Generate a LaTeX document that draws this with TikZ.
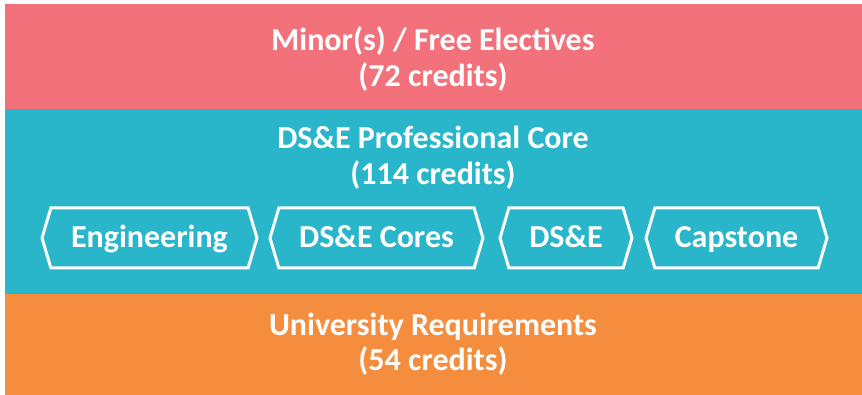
\documentclass[tikz,border=0pt]{standalone}
\usepackage{fontspec}
\setmainfont{Carlito}
\usetikzlibrary{shapes.symbols}
\definecolor{minorpink}{RGB}{242,113,122}
\definecolor{coreteal}{RGB}{41,182,203}
\definecolor{univorange}{RGB}{245,141,62}
\tikzset{every node/.style={text=white, font=\bfseries\fontsize{32}{35.5}\selectfont, align=center}}
\tikzset{hexbox/.style={draw=white, line width=3pt, signal, signal to=west and east, signal pointer angle=147, minimum height=60pt, inner sep=0pt, text height=26pt, text depth=6pt}}

\begin{document}
\begin{tikzpicture}[x=1pt, y=-1pt]
\useasboundingbox (0,0) rectangle (862,395);
\fill[minorpink] (5,4) rectangle (862,109);
\fill[coreteal] (5,109) rectangle (862,294);
\fill[univorange] (5,294) rectangle (862,395);

\node (minor) at (433,59) {Minor(s) / Free Electives\\(72 credits)};
\node (core) at (433,157.5) {DS\&E Professional Core\\(114 credits)};
\node (univ) at (433,344) {University Requirements\\(54 credits)};

\node[hexbox, minimum width=215pt] (eng) at (149.5,238) {Engineering};
\node[hexbox, minimum width=213pt] (cores) at (376.5,238) {DS\&E Cores};
\node[hexbox, minimum width=132pt] (dse) at (566,238) {DS\&E};
\node[hexbox, minimum width=181pt] (cap) at (736.5,238) {Capstone};
\end{tikzpicture}
\end{document}
